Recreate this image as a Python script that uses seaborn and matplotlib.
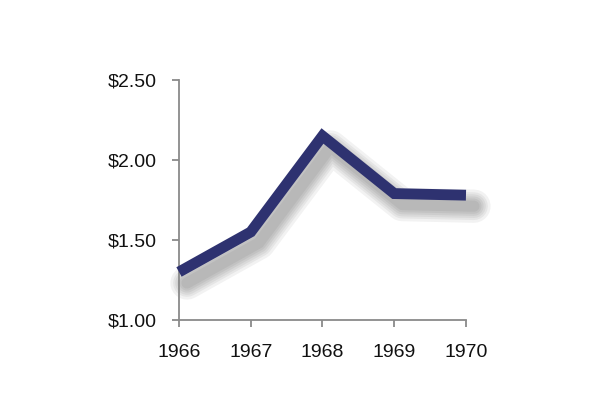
import matplotlib
matplotlib.use("Agg")
import matplotlib.pyplot as plt
import matplotlib.transforms as mtransforms
import seaborn as sns
import pandas as pd

# Data
years = [1966, 1967, 1968, 1969, 1970]
prices = [1.30, 1.55, 2.15, 1.79, 1.78]
y_ticks = [1.00, 1.50, 2.00, 2.50]

df = pd.DataFrame({"year": years, "price": prices})

sns.set_theme(style="white")
plt.rcParams['font.family'] = ['Liberation Sans', 'DejaVu Sans']

fig = plt.figure(figsize=(6.08, 4.08), dpi=100)
ax = fig.add_axes([0.2944, 0.2157, 0.472, 0.5883])

# soft drop shadow: stacked translucent grey lines, offset down-right
off = mtransforms.ScaledTranslation(8 / 100, -11 / 100, fig.dpi_scale_trans)
for lw in [24, 20, 17, 14, 11, 8]:
    sns.lineplot(data=df, x="year", y="price", ax=ax, color="#000000",
                 linewidth=lw, alpha=0.05, transform=ax.transData + off,
                 solid_capstyle="round", solid_joinstyle="round", clip_on=False)

sns.lineplot(data=df, x="year", y="price", ax=ax, color="#2E3270",
             linewidth=7.8, solid_capstyle="butt", solid_joinstyle="miter",
             clip_on=False, zorder=5)

ax.set_xlim(1966, 1970)
ax.set_ylim(1.0, 2.5)
ax.set_xticks(years)
ax.set_yticks(y_ticks)
ax.set_yticklabels([f"${v:.2f}" for v in y_ticks])
ax.set_xlabel("")
ax.set_ylabel("")

for s in ["top", "right"]:
    ax.spines[s].set_visible(False)
for s in ["left", "bottom"]:
    ax.spines[s].set_color("#8a8a8a")
    ax.spines[s].set_linewidth(1.3)

ax.tick_params(axis="both", which="both", direction="out", length=5, width=1.3,
               color="#8a8a8a", labelsize=14, labelcolor="#111111",
               left=True, bottom=True)
ax.tick_params(axis="x", pad=12)
ax.tick_params(axis="y", pad=11)

fig.savefig("out.png", dpi=100)
